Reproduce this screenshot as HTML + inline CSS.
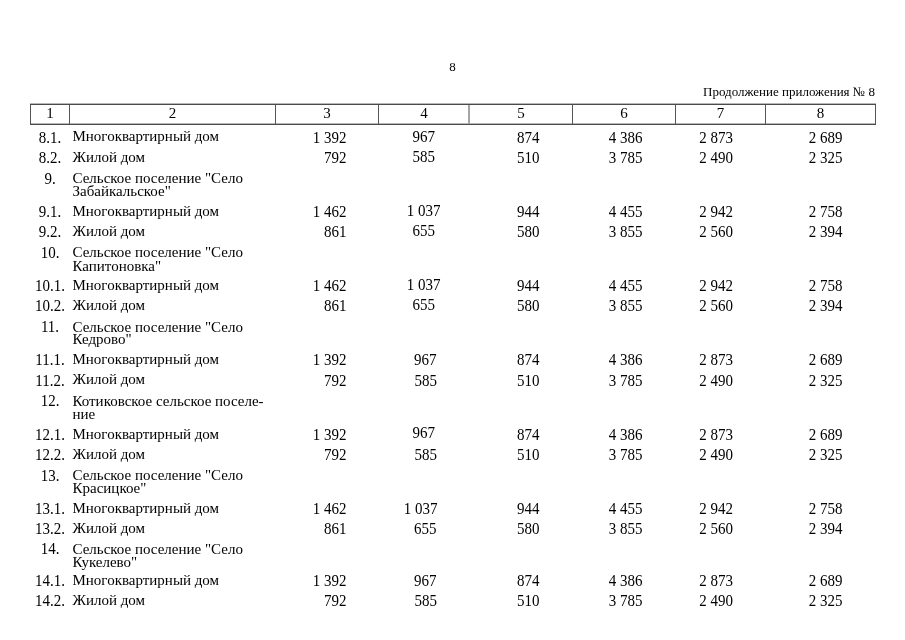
<!DOCTYPE html>
<html><head><meta charset="utf-8"><style>
html,body{margin:0;padding:0;background:#fff;width:905px;height:640px;overflow:hidden}
body{position:relative;font-family:"Liberation Serif",serif;color:#000}
#w{position:absolute;left:0;top:0;width:905px;height:640px;will-change:transform}
.t{position:absolute;font-size:15px;line-height:15px;white-space:pre;transform:scaleY(1.05);transform-origin:0 12px}
.c{width:200px;text-align:center}
.r{text-align:right}
.hl{position:absolute;left:30px;width:846px;height:1px;background:#4b4b4b;box-shadow:0 -1px 0 #b8b8b8}
.vl{position:absolute;top:105px;height:19px;width:1px;background:#555}
.s13{position:absolute;font-size:13px;line-height:13px;white-space:pre}
</style></head><body><div id="w">
<div class="s13" style="left:352.5px;top:60px;width:200px;text-align:center">8</div>
<div class="s13" style="right:30px;top:85px">Продолжение приложения № 8</div>
<div class="hl" style="top:104px"></div>
<div class="hl" style="top:124px"></div>
<div class="vl" style="left:30px"></div><div class="vl" style="left:69px"></div><div class="vl" style="left:275px"></div><div class="vl" style="left:378px"></div><div class="vl" style="left:468px;width:2px;background:#a5a5a5"></div><div class="vl" style="left:572px"></div><div class="vl" style="left:675px"></div><div class="vl" style="left:765px"></div><div class="vl" style="left:875px"></div>
<div class="t c" style="left:-50.0px;top:106px;transform:none">1</div><div class="t c" style="left:72.5px;top:106px;transform:none">2</div><div class="t c" style="left:227.0px;top:106px;transform:none">3</div><div class="t c" style="left:324.0px;top:106px;transform:none">4</div><div class="t c" style="left:421.0px;top:106px;transform:none">5</div><div class="t c" style="left:524.0px;top:106px;transform:none">6</div><div class="t c" style="left:620.5px;top:106px;transform:none">7</div><div class="t c" style="left:720.5px;top:106px;transform:none">8</div>
<div class="t c" style="left:-50px;top:131px;">8.1.</div><div class="t" style="left:72.5px;top:129px;transform:none">Многоквартирный дом</div><div class="t r" style="right:558.5px;top:131px;">1 392</div><div class="t c" style="left:323.7px;top:130px;">967</div><div class="t c" style="left:428.29999999999995px;top:131px;">874</div><div class="t c" style="left:525.5px;top:131px;">4 386</div><div class="t c" style="left:616.1px;top:131px;">2 873</div><div class="t c" style="left:725.6px;top:131px;">2 689</div><div class="t c" style="left:-50px;top:151px;">8.2.</div><div class="t" style="left:72.5px;top:150px;transform:none">Жилой дом</div><div class="t r" style="right:558.5px;top:151px;">792</div><div class="t c" style="left:323.7px;top:150px;">585</div><div class="t c" style="left:428.29999999999995px;top:151px;">510</div><div class="t c" style="left:525.5px;top:151px;">3 785</div><div class="t c" style="left:616.1px;top:151px;">2 490</div><div class="t c" style="left:725.6px;top:151px;">2 325</div><div class="t c" style="left:-50px;top:172px;">9.</div><div class="t" style="left:72.5px;top:171px;transform:none">Сельское поселение &quot;Село</div><div class="t" style="left:72.5px;top:184px;transform:none">Забайкальское&quot;</div><div class="t c" style="left:-50px;top:205px;">9.1.</div><div class="t" style="left:72.5px;top:204px;transform:none">Многоквартирный дом</div><div class="t r" style="right:558.5px;top:205px;">1 462</div><div class="t c" style="left:323.7px;top:204px;">1 037</div><div class="t c" style="left:428.29999999999995px;top:205px;">944</div><div class="t c" style="left:525.5px;top:205px;">4 455</div><div class="t c" style="left:616.1px;top:205px;">2 942</div><div class="t c" style="left:725.6px;top:205px;">2 758</div><div class="t c" style="left:-50px;top:225px;">9.2.</div><div class="t" style="left:72.5px;top:224px;transform:none">Жилой дом</div><div class="t r" style="right:558.5px;top:225px;">861</div><div class="t c" style="left:323.7px;top:224px;">655</div><div class="t c" style="left:428.29999999999995px;top:225px;">580</div><div class="t c" style="left:525.5px;top:225px;">3 855</div><div class="t c" style="left:616.1px;top:225px;">2 560</div><div class="t c" style="left:725.6px;top:225px;">2 394</div><div class="t c" style="left:-50px;top:246px;">10.</div><div class="t" style="left:72.5px;top:245px;transform:none">Сельское поселение &quot;Село</div><div class="t" style="left:72.5px;top:259px;transform:none">Капитоновка&quot;</div><div class="t c" style="left:-50px;top:279px;">10.1.</div><div class="t" style="left:72.5px;top:278px;transform:none">Многоквартирный дом</div><div class="t r" style="right:558.5px;top:279px;">1 462</div><div class="t c" style="left:323.7px;top:278px;">1 037</div><div class="t c" style="left:428.29999999999995px;top:279px;">944</div><div class="t c" style="left:525.5px;top:279px;">4 455</div><div class="t c" style="left:616.1px;top:279px;">2 942</div><div class="t c" style="left:725.6px;top:279px;">2 758</div><div class="t c" style="left:-50px;top:299px;">10.2.</div><div class="t" style="left:72.5px;top:298px;transform:none">Жилой дом</div><div class="t r" style="right:558.5px;top:299px;">861</div><div class="t c" style="left:323.7px;top:298px;">655</div><div class="t c" style="left:428.29999999999995px;top:299px;">580</div><div class="t c" style="left:525.5px;top:299px;">3 855</div><div class="t c" style="left:616.1px;top:299px;">2 560</div><div class="t c" style="left:725.6px;top:299px;">2 394</div><div class="t c" style="left:-50px;top:320px;">11.</div><div class="t" style="left:72.5px;top:320px;transform:none">Сельское поселение &quot;Село</div><div class="t" style="left:72.5px;top:332px;transform:none">Кедрово&quot;</div><div class="t c" style="left:-50px;top:353px;">11.1.</div><div class="t" style="left:72.5px;top:352px;transform:none">Многоквартирный дом</div><div class="t r" style="right:558.5px;top:353px;">1 392</div><div class="t c" style="left:325.2px;top:353px;">967</div><div class="t c" style="left:428.29999999999995px;top:353px;">874</div><div class="t c" style="left:525.5px;top:353px;">4 386</div><div class="t c" style="left:616.1px;top:353px;">2 873</div><div class="t c" style="left:725.6px;top:353px;">2 689</div><div class="t c" style="left:-50px;top:374px;">11.2.</div><div class="t" style="left:72.5px;top:372px;transform:none">Жилой дом</div><div class="t r" style="right:558.5px;top:374px;">792</div><div class="t c" style="left:325.7px;top:374px;">585</div><div class="t c" style="left:428.29999999999995px;top:374px;">510</div><div class="t c" style="left:525.5px;top:374px;">3 785</div><div class="t c" style="left:616.1px;top:374px;">2 490</div><div class="t c" style="left:725.6px;top:374px;">2 325</div><div class="t c" style="left:-50px;top:394px;">12.</div><div class="t" style="left:72.5px;top:394px;transform:none">Котиковское сельское поселе-</div><div class="t" style="left:72.5px;top:407px;transform:none">ние</div><div class="t c" style="left:-50px;top:428px;">12.1.</div><div class="t" style="left:72.5px;top:427px;transform:none">Многоквартирный дом</div><div class="t r" style="right:558.5px;top:428px;">1 392</div><div class="t c" style="left:323.7px;top:426px;">967</div><div class="t c" style="left:428.29999999999995px;top:428px;">874</div><div class="t c" style="left:525.5px;top:428px;">4 386</div><div class="t c" style="left:616.1px;top:428px;">2 873</div><div class="t c" style="left:725.6px;top:428px;">2 689</div><div class="t c" style="left:-50px;top:448px;">12.2.</div><div class="t" style="left:72.5px;top:447px;transform:none">Жилой дом</div><div class="t r" style="right:558.5px;top:448px;">792</div><div class="t c" style="left:325.7px;top:448px;">585</div><div class="t c" style="left:428.29999999999995px;top:448px;">510</div><div class="t c" style="left:525.5px;top:448px;">3 785</div><div class="t c" style="left:616.1px;top:448px;">2 490</div><div class="t c" style="left:725.6px;top:448px;">2 325</div><div class="t c" style="left:-50px;top:469px;">13.</div><div class="t" style="left:72.5px;top:468px;transform:none">Сельское поселение &quot;Село</div><div class="t" style="left:72.5px;top:481px;transform:none">Красицкое&quot;</div><div class="t c" style="left:-50px;top:502px;">13.1.</div><div class="t" style="left:72.5px;top:501px;transform:none">Многоквартирный дом</div><div class="t r" style="right:558.5px;top:502px;">1 462</div><div class="t c" style="left:320.7px;top:502px;">1 037</div><div class="t c" style="left:428.29999999999995px;top:502px;">944</div><div class="t c" style="left:525.5px;top:502px;">4 455</div><div class="t c" style="left:616.1px;top:502px;">2 942</div><div class="t c" style="left:725.6px;top:502px;">2 758</div><div class="t c" style="left:-50px;top:522px;">13.2.</div><div class="t" style="left:72.5px;top:521px;transform:none">Жилой дом</div><div class="t r" style="right:558.5px;top:522px;">861</div><div class="t c" style="left:325.2px;top:522px;">655</div><div class="t c" style="left:428.29999999999995px;top:522px;">580</div><div class="t c" style="left:525.5px;top:522px;">3 855</div><div class="t c" style="left:616.1px;top:522px;">2 560</div><div class="t c" style="left:725.6px;top:522px;">2 394</div><div class="t c" style="left:-50px;top:542px;">14.</div><div class="t" style="left:72.5px;top:542px;transform:none">Сельское поселение &quot;Село</div><div class="t" style="left:72.5px;top:555px;transform:none">Кукелево&quot;</div><div class="t c" style="left:-50px;top:574px;">14.1.</div><div class="t" style="left:72.5px;top:573px;transform:none">Многоквартирный дом</div><div class="t r" style="right:558.5px;top:574px;">1 392</div><div class="t c" style="left:325.2px;top:574px;">967</div><div class="t c" style="left:428.29999999999995px;top:574px;">874</div><div class="t c" style="left:525.5px;top:574px;">4 386</div><div class="t c" style="left:616.1px;top:574px;">2 873</div><div class="t c" style="left:725.6px;top:574px;">2 689</div><div class="t c" style="left:-50px;top:594px;">14.2.</div><div class="t" style="left:72.5px;top:593px;transform:none">Жилой дом</div><div class="t r" style="right:558.5px;top:594px;">792</div><div class="t c" style="left:325.7px;top:594px;">585</div><div class="t c" style="left:428.29999999999995px;top:594px;">510</div><div class="t c" style="left:525.5px;top:594px;">3 785</div><div class="t c" style="left:616.1px;top:594px;">2 490</div><div class="t c" style="left:725.6px;top:594px;">2 325</div>
</div></body></html>
